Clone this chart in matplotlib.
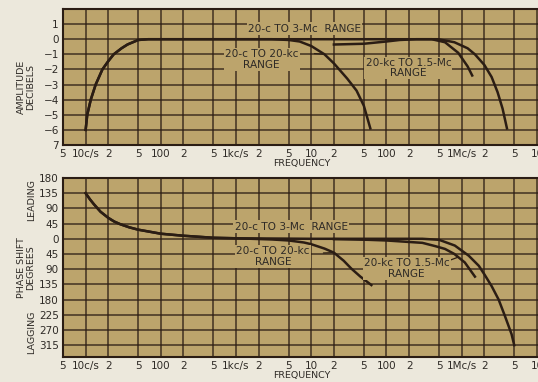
import numpy as np
import matplotlib.pyplot as plt

# frequency axis ticks
tick_freqs = [5, 10, 20, 50, 100, 200, 500, 1e3, 2e3, 5e3, 1e4, 2e4, 5e4,
              1e5, 2e5, 5e5, 1e6, 2e6, 5e6, 1e7]
tick_labels = ["5", "10c/s", "2", "5", "100", "2", "5", "1kc/s", "2", "5", "10",
               "2", "5", "100", "2", "5", "1Mc/s", "2", "5", "10"]

# amplitude (dB)
amp_3mc_f = [10, 10.5, 11.7, 13.6, 16.7, 20, 23.6, 30, 36, 50, 68, 100, 1e3, 1e4, 1e5,
             4.9e5, 8e5, 1.2e6, 1.5e6, 2e6, 2.5e6, 3e6, 3.5e6, 4e6]
amp_3mc = [-6, -5, -4, -3, -2, -1.45, -1, -0.6, -0.35, -0.05, 0, 0, 0, 0, 0,
           0, -0.2, -0.6, -1.0, -1.7, -2.5, -3.5, -4.6, -5.9]

amp_20k_f = [10, 10.5, 11.7, 13.6, 16.7, 20, 23.6, 30, 36, 50, 68, 100, 1e3, 3e3, 5e3,
             7e3, 1e4, 1.5e4, 2e4, 3e4, 4e4, 5e4, 6.1e4]
amp_20k = [-6, -5, -4, -3, -2, -1.45, -1, -0.6, -0.35, -0.05, 0, 0, 0, 0, -0.05,
           -0.15, -0.45, -1.0, -1.6, -2.6, -3.4, -4.4, -5.9]

amp_1p5_f = [2e4, 5e4, 1e5, 1.5e5, 2.5e5, 4e5, 6e5, 9e5, 1.2e6, 1.38e6]
amp_1p5 = [-0.35, -0.3, -0.15, -0.05, 0, 0, -0.2, -0.9, -1.8, -2.4]

# phase (degrees, leading positive)
ph_3mc_f = [10, 11.4, 12.8, 15.8, 20, 24, 29, 38, 50, 100, 200, 500, 1e3, 1e4, 1e5,
            3e5, 5e5, 8.1e5, 1.24e6, 1.69e6, 2e6, 2.5e6, 3.1e6, 3.75e6, 4.6e6, 5e6]
ph_3mc = [135, 117, 103, 80, 62, 51, 43, 34, 27, 15, 9, 3, 1.5, 0, 0,
          0, -3, -20, -50, -80, -105, -140, -180, -228, -282, -315]

ph_20k_f = [10, 11.4, 12.8, 15.8, 20, 24, 29, 38, 50, 100, 200, 500, 1e3, 3e3, 5e3,
            8e3, 1e4, 1.5e4, 2e4, 2.7e4, 3.4e4, 4.5e4, 6.3e4]
ph_20k = [135, 117, 103, 80, 62, 51, 43, 34, 27, 15, 9, 3, 1.5, -2, -5,
          -11, -16, -29, -41, -65, -88, -112, -137]

ph_1p5_f = [2e4, 5.7e4, 1e5, 1.6e5, 3e5, 4.5e5, 6e5, 8e5, 1.1e6, 1.5e6]
ph_1p5 = [-1, -3, -5, -8, -12, -22, -30, -45, -70, -112]

amp_ticks = [1, 0, -1, -2, -3, -4, -5, -6, -7]
amp_tick_labels = ["1", "0", "\u22121", "\u22122", "\u22123", "\u22124", "\u22125", "\u22126", "7"]
ph_ticks = [180, 135, 90, 45, 0, -45, -90, -135, -180, -225, -270, -315]
ph_tick_labels = [str(abs(v)) for v in ph_ticks]

BG = "#bca46c"
PAGE = "#ece8dc"
INK = "#2b1d14"
TXT = "#2e2a26"

W, H = 538, 382
fig = plt.figure(figsize=(W / 100, H / 100), dpi=100, facecolor=PAGE)


def px_axes(left, top, right, bottom):
    return fig.add_axes([left / W, 1 - bottom / H, (right - left) / W, (bottom - top) / H])


def style(ax, yticks, ylabels, ylim):
    ax.set_facecolor(BG)
    ax.set_xscale("log")
    ax.set_xlim(5, 1.1e7)
    ax.set_ylim(*ylim)
    ax.set_xticks(tick_freqs)
    ax.set_xticklabels(tick_labels)
    ax.xaxis.set_minor_locator(plt.NullLocator())
    ax.set_yticks(yticks)
    ax.set_yticklabels(ylabels)
    ax.tick_params(length=0, labelsize=7.5, labelcolor=TXT, pad=3)
    ax.grid(True, color=INK, linewidth=1.1, alpha=0.85)
    for s in ax.spines.values():
        s.set_color(INK)
        s.set_linewidth(1.5)
    ax.set_xlabel("FREQUENCY", fontsize=6.8, color=TXT, labelpad=0)


lbl = dict(fontsize=7.6, color=TXT, ha="center", va="center", multialignment="center",
           linespacing=1.05, bbox=dict(facecolor=BG, edgecolor="none", pad=0.8), zorder=4)
lead = dict(arrowstyle="-", color=INK, lw=0.9, shrinkA=0, shrinkB=0)


def on_curve(fx, fy, f):
    return float(np.interp(np.log10(f), np.log10(fx), fy))


# amplitude panel
ax1 = px_axes(63, 9, 540, 145)
style(ax1, amp_ticks, amp_tick_labels, (-7, 2))
for fx, fy in [(amp_3mc_f, amp_3mc), (amp_20k_f, amp_20k), (amp_1p5_f, amp_1p5)]:
    ax1.plot(fx, fy, color=INK, lw=1.8, zorder=3)
ax1.text(8.07e3, 0.7, "20-c TO 3-Mc  RANGE", **lbl)
ax1.text(2.2e3, -1.35, "20-c TO 20-kc\nRANGE", **lbl)
ax1.annotate("", xy=(1.5e4, on_curve(amp_20k_f, amp_20k, 1.5e4)),
             xytext=(1.1e4, -0.95), arrowprops=lead)
ax1.text(1.96e5, -1.9, "20-kc TO 1.5-Mc\nRANGE", **lbl)

# phase panel
ax2 = px_axes(63, 178, 540, 357)
style(ax2, ph_ticks, ph_tick_labels, (-350, 180))
for fx, fy in [(ph_3mc_f, ph_3mc), (ph_20k_f, ph_20k), (ph_1p5_f, ph_1p5)]:
    ax2.plot(fx, fy, color=INK, lw=1.8, zorder=3)
ax2.text(5.4e3, 36, "20-c TO 3-Mc  RANGE", **lbl)
ax2.text(3.1e3, -52, "20-c TO 20-kc\nRANGE", **lbl)
ax2.annotate("", xy=(2e4, on_curve(ph_20k_f, ph_20k, 2e4)),
             xytext=(1.45e4, -42), arrowprops=lead)
ax2.text(1.85e5, -88, "20-kc TO 1.5-Mc\nRANGE", **lbl)
ax2.annotate("", xy=(9e5, on_curve(ph_1p5_f, ph_1p5, 9e5)),
             xytext=(6.5e5, -66), arrowprops=lead)

# side titles
side = dict(rotation=90, fontsize=6.8, color=TXT, ha="center", va="center", linespacing=1.1)
fig.text(26 / W, 1 - 87 / H, "AMPLITUDE\nDECIBELS", **side)
fig.text(26 / W, 1 - 268 / H, "PHASE SHIFT\nDEGREES", **side)
fig.text(32 / W, 1 - 200 / H, "LEADING", **side)
fig.text(32 / W, 1 - 332 / H, "LAGGING", **side)

fig.savefig("out.png", dpi=100, facecolor=PAGE)
